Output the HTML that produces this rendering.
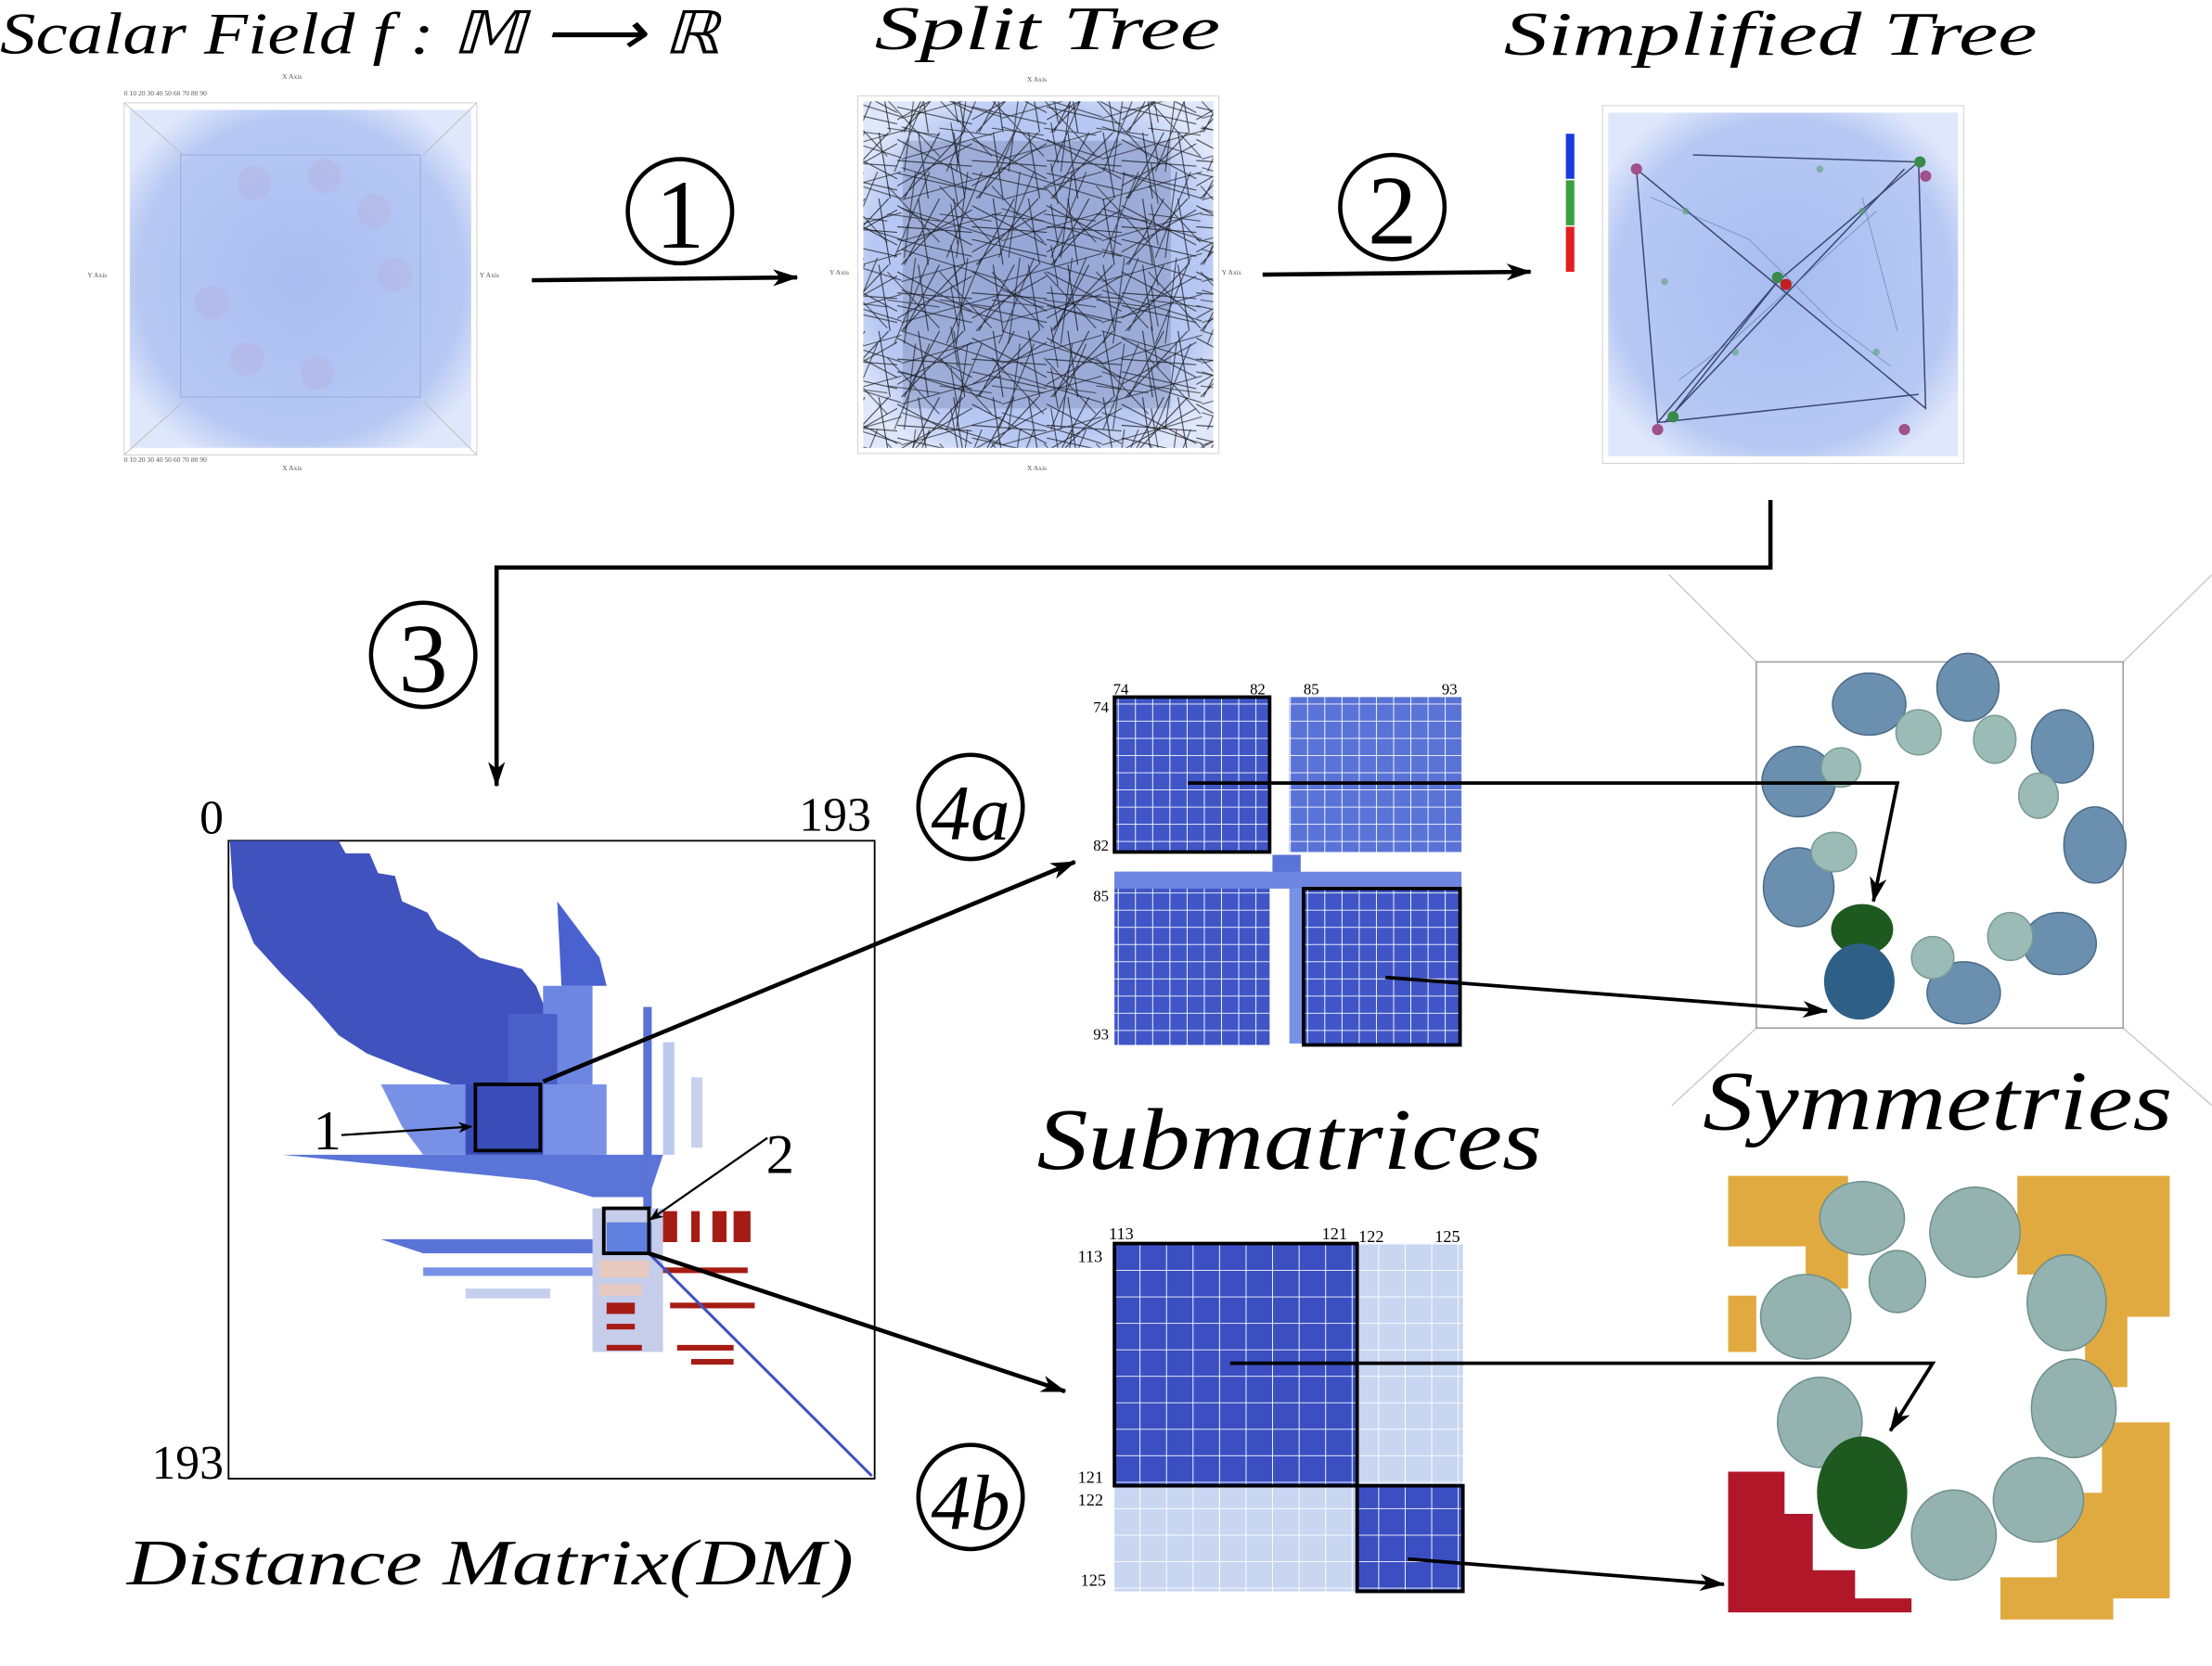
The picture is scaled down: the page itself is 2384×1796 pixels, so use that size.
<!DOCTYPE html>
<html><head><meta charset="utf-8"><style>
html,body{margin:0;padding:0;background:#fff}
svg{display:block}
text{font-family:"Liberation Serif",serif}
.it{font-style:italic}
</style></head><body>
<svg width="2384" height="1796" viewBox="0 0 1568 1183" preserveAspectRatio="none" xmlns="http://www.w3.org/2000/svg">
<defs>
<marker id="ah" markerWidth="10" markerHeight="8" refX="9" refY="4" orient="auto" markerUnits="userSpaceOnUse"><path d="M0,0 L10,4 L0,8 L3,4 Z" fill="#000"/></marker>
<marker id="ahb" markerWidth="18" markerHeight="12" refX="17" refY="6" orient="auto" markerUnits="userSpaceOnUse"><path d="M0,0 L18,6 L0,12 L5,6 Z" fill="#000"/></marker>
<radialGradient id="cloud" cx="50%" cy="50%" r="60%"><stop offset="0" stop-color="#a9bdf0"/><stop offset="0.8" stop-color="#b7c8f3"/><stop offset="1" stop-color="#dfe7fb"/></radialGradient>
<pattern id="grid1" width="12.2" height="12.2" patternUnits="userSpaceOnUse"><rect width="12.2" height="12.2" fill="#4055c6"/><path d="M12.2,0V12.2M0,12.2H12.2" stroke="#fff" stroke-width="1.2"/></pattern>
<pattern id="grid1l" width="12.2" height="12.2" patternUnits="userSpaceOnUse"><rect width="12.2" height="12.2" fill="#5a73d6"/><path d="M12.2,0V12.2M0,12.2H12.2" stroke="#fff" stroke-width="1.2"/></pattern>
<pattern id="grid2" width="18.8" height="18.8" patternUnits="userSpaceOnUse"><rect width="18.8" height="18.8" fill="#3b4fc2"/><path d="M18.8,0V18.8M0,18.8H18.8" stroke="#fff" stroke-width="1.2"/></pattern>
<pattern id="grid2l" width="18.8" height="18.8" patternUnits="userSpaceOnUse"><rect width="18.8" height="18.8" fill="#c9d6f2"/><path d="M18.8,0V18.8M0,18.8H18.8" stroke="#fff" stroke-width="1.2"/></pattern>
<pattern id="lines" width="53" height="47" patternUnits="userSpaceOnUse"><path d="M0,5L53,33M3,47L47,0M0,20L53,24M15,0L22,47M0,38L53,8M30,0L5,47M40,0L48,47M0,29L53,41" stroke="#111" stroke-width="0.7" opacity="0.8"/></pattern>
<pattern id="lines2" width="37" height="61" patternUnits="userSpaceOnUse"><path d="M0,10L37,50M5,61L30,0M0,30L37,35M20,0L12,61" stroke="#111" stroke-width="0.7" opacity="0.7"/></pattern>
<pattern id="lines3" width="71" height="29" patternUnits="userSpaceOnUse"><path d="M0,3L71,25M0,26L71,6M35,0L40,29" stroke="#111" stroke-width="0.7" opacity="0.7"/></pattern>
</defs>

<!-- Titles -->
<text x="0" y="38" font-size="42" class="it" textLength="510" lengthAdjust="spacingAndGlyphs">Scalar Field f : 𝕄 ⟶ ℝ</text>
<text x="620" y="35" font-size="44" class="it" textLength="245" lengthAdjust="spacingAndGlyphs">Split Tree</text>
<text x="1066" y="39" font-size="44" class="it" textLength="378" lengthAdjust="spacingAndGlyphs">Simplified Tree</text>

<!-- Panel 1 -->
<rect x="88" y="73" width="250" height="250" fill="none" stroke="#ccc" stroke-width="0.6"/>
<rect x="92" y="78" width="242" height="240" fill="url(#cloud)"/>
<rect x="128" y="110" width="170" height="172" fill="none" stroke="#a0b0e0" stroke-width="0.8"/>
<path d="M88,73L130,110M338,73L300,110M88,323L130,285M338,323L300,285" stroke="#bbb" stroke-width="0.6"/>
<g fill="#b8a9d8" opacity="0.3"><circle cx="180" cy="130" r="12"/><circle cx="230" cy="125" r="12"/><circle cx="265" cy="150" r="12"/><circle cx="280" cy="195" r="12"/><circle cx="150" cy="215" r="12"/><circle cx="175" cy="255" r="12"/><circle cx="225" cy="265" r="12"/></g>
<g font-size="5" fill="#555"><text x="200" y="56">X Axis</text><text x="200" y="334">X Axis</text><text x="62" y="197">Y Axis</text><text x="340" y="197">Y Axis</text>
<text x="88" y="68">0    10    20    30    40    50    60    70    80    90</text><text x="88" y="328">0    10    20    30    40    50    60    70    80    90</text></g>

<!-- Arrow 1 -->
<line x1="377" y1="199" x2="565" y2="197" stroke="#000" stroke-width="3" marker-end="url(#ahb)"/>
<circle cx="482" cy="150" r="37" fill="none" stroke="#000" stroke-width="3"/>
<text x="482" y="176" font-size="70" text-anchor="middle">1</text>

<!-- Panel 2 -->
<rect x="608" y="68" width="256" height="254" fill="none" stroke="#ccc" stroke-width="0.6"/>
<rect x="612" y="72" width="248" height="246" fill="url(#cloud)"/>
<rect x="612" y="72" width="248" height="246" fill="url(#lines)"/>
<rect x="612" y="72" width="248" height="246" fill="url(#lines2)"/>
<rect x="612" y="72" width="248" height="246" fill="url(#lines3)"/>
<rect x="640" y="100" width="190" height="190" fill="#1a2244" opacity="0.15"/>
<g font-size="5" fill="#555"><text x="728" y="58">X Axis</text><text x="728" y="334">X Axis</text><text x="588" y="195">Y Axis</text><text x="866" y="195">Y Axis</text></g>

<!-- Arrow 2 -->
<line x1="895" y1="195" x2="1085" y2="193" stroke="#000" stroke-width="3" marker-end="url(#ahb)"/>
<circle cx="987" cy="147" r="37" fill="none" stroke="#000" stroke-width="3"/>
<text x="987" y="173" font-size="70" text-anchor="middle">2</text>

<!-- Panel 3 -->
<rect x="1136" y="75" width="256" height="254" fill="none" stroke="#ccc" stroke-width="0.6"/>
<rect x="1140" y="80" width="248" height="244" fill="url(#cloud)"/>
<g stroke="#1e2a55" stroke-width="1" fill="none" opacity="0.8">
<path d="M1160,120L1175,300L1260,200L1360,115L1365,290L1160,120"/>
<path d="M1180,300L1350,120M1260,200L1185,295M1360,115L1200,110M1175,300L1360,280"/>
</g>
<g stroke="#5a6ea0" stroke-width="0.6" fill="none" opacity="0.6"><path d="M1170,140L1240,170L1300,230L1340,260M1190,270L1230,240L1330,150M1320,140L1345,235"/></g>
<g fill="#a0508a"><circle cx="1160" cy="120" r="4"/><circle cx="1175" cy="305" r="4"/><circle cx="1350" cy="305" r="4"/><circle cx="1365" cy="125" r="4"/></g>
<g fill="#3a8a4a"><circle cx="1361" cy="115" r="4"/><circle cx="1186" cy="296" r="4"/><circle cx="1260" cy="197" r="4"/></g>
<g fill="#5aa07a" opacity="0.6"><circle cx="1195" cy="150" r="2.5"/><circle cx="1230" cy="250" r="2.5"/><circle cx="1320" cy="150" r="2.5"/><circle cx="1330" cy="250" r="2.5"/><circle cx="1290" cy="120" r="2.5"/><circle cx="1180" cy="200" r="2.5"/></g>
<circle cx="1266" cy="202" r="4" fill="#c02020"/>
<rect x="1110" y="95" width="6" height="32" fill="#1a3adf"/>
<rect x="1110" y="128" width="6" height="32" fill="#3aa040"/>
<rect x="1110" y="161" width="6" height="32" fill="#e02020"/>

<!-- connector 3 -->
<path d="M1255,355 V403 H352 V558" fill="none" stroke="#000" stroke-width="3" marker-end="url(#ahb)"/>
<circle cx="300" cy="465" r="37" fill="none" stroke="#000" stroke-width="3"/>
<text x="300" y="491" font-size="70" text-anchor="middle">3</text>

<!-- Distance matrix -->
<rect x="162" y="597" width="458" height="453" fill="#fff" stroke="#000" stroke-width="1.2"/>
<path d="M163,597H240L245,606H262L268,620L280,622L285,640L303,648L310,660L325,668L340,680L370,688L380,700L388,720V770H340L320,770L290,760L260,748L240,735L220,712L200,692L180,670L172,650L165,630Z" fill="#3f52be"/>
<path d="M385,700H420V830H385Z" fill="#6d86e2"/>
<path d="M270,770H430V820H300L285,800Z" fill="#7891e6"/>
<path d="M200,820H470L460,850H420L380,838L300,830Z" fill="#5b74d8"/>
<path d="M395,640L398,700H430L425,680L410,660Z" fill="#4a62d0"/>
<path d="M360,720H395V770H360Z" fill="#4a5fc8"/>
<path d="M330,770H385V820H330Z" fill="#3a4cb8"/>
<path d="M456,715H462V860H456Z" fill="#5a73d6"/>
<path d="M470,740H478V820H470Z" fill="#bcc8ee"/>
<path d="M490,765H498V815H490Z" fill="#c8d2ef"/>
<path d="M270,880H430V890H300Z" fill="#5a73d6"/>
<path d="M300,900H420V906H300Z" fill="#7891e6"/>
<path d="M330,915H390V922H330Z" fill="#c5d0f0"/>
<path d="M420,858H470V960H420Z" fill="#c5cdea"/>
<path d="M430,868H462V890H430Z" fill="#6080e0"/>
<g fill="#a61c14">
<rect x="470" y="860" width="10" height="22"/><rect x="490" y="860" width="6" height="22"/><rect x="505" y="860" width="10" height="22"/><rect x="520" y="860" width="12" height="22"/>
<rect x="470" y="900" width="60" height="4"/><rect x="430" y="925" width="20" height="8"/><rect x="430" y="940" width="20" height="4"/><rect x="430" y="955" width="25" height="4"/><rect x="475" y="925" width="60" height="4"/><rect x="480" y="955" width="40" height="4"/><rect x="490" y="965" width="30" height="4"/>
</g>
<g fill="#e8c9c0"><rect x="425" y="895" width="35" height="12"/><rect x="425" y="912" width="30" height="8"/></g>
<line x1="460" y1="890" x2="618" y2="1048" stroke="#3f52be" stroke-width="2"/>
<rect x="337" y="770" width="46" height="47" fill="none" stroke="#000" stroke-width="2.5"/>
<rect x="428" y="858" width="32" height="32" fill="none" stroke="#000" stroke-width="2.5"/>
<text x="150" y="592" font-size="34" text-anchor="middle">0</text>
<text x="592" y="590" font-size="34" text-anchor="middle">193</text>
<text x="133" y="1050" font-size="34" text-anchor="middle">193</text>
<text x="232" y="816" font-size="40" text-anchor="middle">1</text>
<line x1="242" y1="806" x2="334" y2="800" stroke="#000" stroke-width="1.5" marker-end="url(#ah)"/>
<text x="553" y="833" font-size="40" text-anchor="middle">2</text>
<line x1="544" y1="808" x2="461" y2="866" stroke="#000" stroke-width="1.5" marker-end="url(#ah)"/>
<text x="90" y="1125" font-size="46" class="it" textLength="515" lengthAdjust="spacingAndGlyphs">Distance Matrix(DM)</text>

<!-- arrows to submatrices -->
<line x1="385" y1="768" x2="762" y2="612" stroke="#000" stroke-width="3" marker-end="url(#ahb)"/>
<line x1="460" y1="890" x2="755" y2="988" stroke="#000" stroke-width="3" marker-end="url(#ahb)"/>
<circle cx="688" cy="573" r="37" fill="none" stroke="#000" stroke-width="3"/>
<text x="688" y="596" font-size="56" class="it" text-anchor="middle">4a</text>
<circle cx="688" cy="1063" r="37" fill="none" stroke="#000" stroke-width="3"/>
<text x="688" y="1086" font-size="56" class="it" text-anchor="middle">4b</text>

<!-- Submatrix a -->
<rect x="790" y="495" width="110" height="110" fill="url(#grid1)"/>
<rect x="914" y="495" width="122" height="110" fill="url(#grid1l)"/>
<rect x="790" y="619" width="110" height="123" fill="url(#grid1)"/>
<rect x="902" y="607" width="20" height="22" fill="#5a73d6"/>
<rect x="790" y="619" width="246" height="12" fill="#6d86e2"/>
<rect x="914" y="631" width="10" height="110" fill="#7891e6"/>
<rect x="924" y="631" width="111" height="111" fill="url(#grid1)"/>
<rect x="790" y="495" width="110" height="110" fill="none" stroke="#000" stroke-width="2.5"/>
<rect x="924" y="631" width="111" height="111" fill="none" stroke="#000" stroke-width="2.5"/>
<g font-size="11"><text x="789" y="493">74</text><text x="886" y="493">82</text><text x="924" y="493">85</text><text x="1022" y="493">93</text>
<text x="775" y="506">74</text><text x="775" y="604">82</text><text x="775" y="640">85</text><text x="775" y="738">93</text></g>

<text x="735" y="830" font-size="62" class="it" textLength="358" lengthAdjust="spacingAndGlyphs">Submatrices</text>

<!-- Submatrix b -->
<rect x="790" y="883" width="247" height="247" fill="url(#grid2l)"/>
<rect x="790" y="883" width="172" height="172" fill="url(#grid2)"/>
<rect x="962" y="1055" width="75" height="75" fill="url(#grid2)"/>
<rect x="790" y="883" width="172" height="172" fill="none" stroke="#000" stroke-width="2.5"/>
<rect x="962" y="1055" width="75" height="75" fill="none" stroke="#000" stroke-width="2.5"/>
<g font-size="12"><text x="786" y="880">113</text><text x="937" y="880">121</text><text x="963" y="882">122</text><text x="1017" y="882">125</text>
<text x="764" y="896">113</text><text x="764" y="1053">121</text><text x="764" y="1069">122</text><text x="766" y="1126">125</text></g>

<!-- Symmetries panel top -->
<path d="M1245,470L1183,408M1505,470L1568,408M1245,730L1185,785M1505,730L1568,785" stroke="#ccc" stroke-width="1"/>
<rect x="1245" y="470" width="260" height="260" fill="#fff" stroke="#999" stroke-width="1"/>
<g fill="#6b8fae" stroke="#4a6a88" stroke-width="1">
<ellipse cx="1325" cy="500" rx="26" ry="22"/><ellipse cx="1395" cy="488" rx="22" ry="24"/><ellipse cx="1275" cy="555" rx="26" ry="25"/>
<ellipse cx="1462" cy="530" rx="22" ry="26"/><ellipse cx="1485" cy="600" rx="22" ry="27"/><ellipse cx="1460" cy="670" rx="26" ry="22"/>
<ellipse cx="1392" cy="705" rx="26" ry="22"/><ellipse cx="1275" cy="630" rx="25" ry="28"/></g>
<g fill="#9bbbb6" stroke="#7a9a96" stroke-width="1"><ellipse cx="1360" cy="520" rx="16" ry="16"/><ellipse cx="1414" cy="525" rx="15" ry="17"/><ellipse cx="1305" cy="545" rx="14" ry="14"/><ellipse cx="1445" cy="565" rx="14" ry="16"/><ellipse cx="1300" cy="605" rx="16" ry="14"/><ellipse cx="1425" cy="665" rx="16" ry="17"/><ellipse cx="1370" cy="680" rx="15" ry="15"/></g>
<ellipse cx="1320" cy="660" rx="22" ry="18" fill="#1e5a20"/>
<ellipse cx="1318" cy="697" rx="25" ry="27" fill="#2e5f86"/>
<path d="M842,556H1345L1328,640" fill="none" stroke="#000" stroke-width="2.5" marker-end="url(#ahb)"/>
<line x1="982" y1="694" x2="1295" y2="718" stroke="#000" stroke-width="2.5" marker-end="url(#ahb)"/>
<text x="1207" y="802" font-size="60" class="it" textLength="333" lengthAdjust="spacingAndGlyphs">Symmetries</text>

<!-- Symmetries panel bottom -->
<g fill="#e0aa40">
<path d="M1225,835h85v80h-30v-30h-55z"/><path d="M1430,835h108v100h-30v50h-30v-80h-48z"/>
<path d="M1490,1010h48v125h-40v15h-80v-30h40v-60h32z"/><path d="M1225,920h20v40h-20z"/>
</g>
<g fill="#94b3b0" stroke="#6f8f8c" stroke-width="1">
<ellipse cx="1320" cy="865" rx="30" ry="26"/><ellipse cx="1400" cy="875" rx="32" ry="32"/><ellipse cx="1280" cy="935" rx="32" ry="30"/>
<ellipse cx="1465" cy="925" rx="28" ry="34"/><ellipse cx="1470" cy="1000" rx="30" ry="35"/><ellipse cx="1445" cy="1065" rx="32" ry="30"/>
<ellipse cx="1385" cy="1090" rx="30" ry="32"/><ellipse cx="1290" cy="1010" rx="30" ry="32"/><ellipse cx="1345" cy="910" rx="20" ry="22"/>
</g>
<ellipse cx="1320" cy="1060" rx="32" ry="40" fill="#1e5a20"/>
<path d="M1225,1045h40v30h20v40h30v20h40v10h-130z" fill="#b0182a"/>
<path d="M872,968H1370L1340,1016" fill="none" stroke="#000" stroke-width="2.5" marker-end="url(#ahb)"/>
<line x1="998" y1="1107" x2="1222" y2="1125" stroke="#000" stroke-width="2.5" marker-end="url(#ahb)"/>
</svg>
</body></html>
